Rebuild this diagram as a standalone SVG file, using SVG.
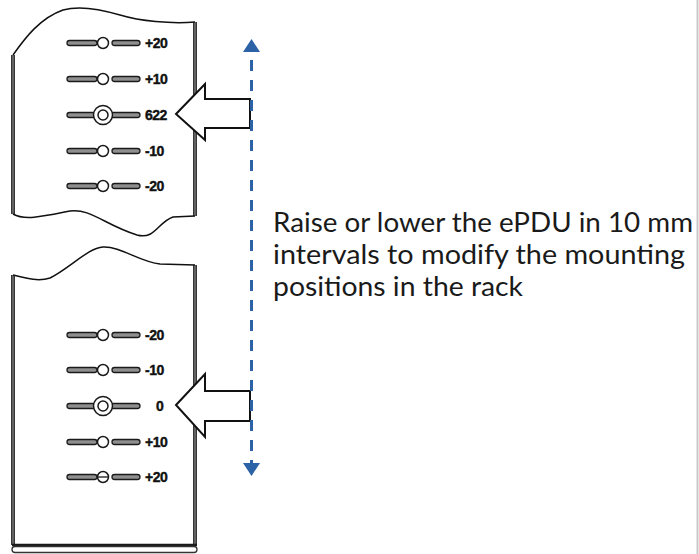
<svg xmlns="http://www.w3.org/2000/svg" xmlns:xlink="http://www.w3.org/1999/xlink" width="699" height="554" viewBox="0 0 699 554">
<style>
.edge{fill:none;stroke:#222;stroke-width:3.8}
.edge2{fill:none;stroke:#b0b0b0;stroke-width:0.9}
.cut{fill:none;stroke:#111;stroke-width:1.5}
.bar{fill:#8f8f8f;stroke:#1a1a1a;stroke-width:1.3}
.hole{fill:#fff;stroke:#1a1a1a;stroke-width:1.5}
.lbl{font-family:"Liberation Sans",Arial,sans-serif;font-weight:bold;font-size:14px;fill:#111;stroke:#111;stroke-width:0.4;letter-spacing:-0.5px}
.arrow{fill:#fff;stroke:#111;stroke-width:2;stroke-linejoin:miter}
.cap{font-family:Lato,"Liberation Sans",sans-serif;font-size:26px;fill:#1a1a1a}
.dash{stroke:#2c62a6;stroke-width:3;stroke-dasharray:11 9;stroke-dashoffset:12;fill:none}
</style>
<defs>
<g id="slot">
<rect class="bar" x="-36" y="-2.5" width="30" height="5" rx="2.5"/>
<rect class="bar" x="9" y="-2.5" width="28" height="5" rx="2.5"/>
<circle class="hole" cx="0" cy="0" r="5.5"/>
</g>
<g id="slotSel">
<rect class="bar" x="-36" y="-2.5" width="28" height="5" rx="2.5"/>
<rect class="bar" x="8" y="-2.5" width="29" height="5" rx="2.5"/>
<circle class="hole" cx="0" cy="0" r="9.5" stroke-width="1.7"/>
<circle class="hole" cx="0" cy="0" r="5"/>
</g>
<marker id="head" viewBox="0 0 13 17" refX="0" refY="8.5" markerWidth="13" markerHeight="17" markerUnits="userSpaceOnUse" orient="auto-start-reverse">
<path d="M0,0 L13,8.5 L0,17 z" fill="#2c62a6"/>
</marker>
</defs>
<rect x="0" y="0" width="699" height="554" fill="#fff"/>
<line x1="697.5" y1="0" x2="697.5" y2="554" stroke="#c9c9c9" stroke-width="2"/>

<g id="panel-top">
<path class="edge" d="M13,55 V214 M195,22 V216"/>
<path class="edge2" d="M13,55 V214 M195,22 V216"/>
<path class="cut" d="M13,55 C25,38 40,18 63,10 C80,5 100,9 120,15 C140,21 170,24 195,22"/>
<path class="cut" d="M13,214 C25,221 45,216 70,211 C90,208 105,225 137,235 C155,240 158,222 173,217 L195,216"/>
<use xlink:href="#slot" x="103" y="43"/>
<use xlink:href="#slot" x="103" y="79"/>
<use xlink:href="#slotSel" x="103" y="115"/>
<use xlink:href="#slot" x="103" y="151"/>
<use xlink:href="#slot" x="103" y="186"/>
<text class="lbl" x="145" y="48">+20</text>
<text class="lbl" x="145" y="84">+10</text>
<text class="lbl" x="145" y="120">622</text>
<text class="lbl" x="145" y="156">-10</text>
<text class="lbl" x="145" y="191">-20</text>
</g>

<g id="panel-bottom">
<path class="edge" d="M13,275 V545 M195,265 V545"/>
<path class="edge2" d="M13,275 V544 M195,265 V544"/>
<path class="cut" d="M13,275 C25,278 38,282 50,278 C70,268 88,248 103,247 C120,246 140,262 160,264 L195,265"/>
<line x1="12" y1="545" x2="197" y2="545" stroke="#1a1a1a" stroke-width="2.4"/>
<rect x="12" y="546.5" width="185" height="6" rx="3" fill="#fff" stroke="#333" stroke-width="1.3"/>
<use xlink:href="#slot" x="103" y="335"/>
<use xlink:href="#slot" x="103" y="370"/>
<use xlink:href="#slotSel" x="103" y="406"/>
<use xlink:href="#slot" x="103" y="442"/>
<use xlink:href="#slot" x="103" y="477"/>
<line x1="97.5" y1="477" x2="108.5" y2="477" stroke="#1a1a1a" stroke-width="1.3"/>
<text class="lbl" x="145" y="340">-20</text>
<text class="lbl" x="145" y="375">-10</text>
<text class="lbl" x="156" y="411">0</text>
<text class="lbl" x="145" y="447">+10</text>
<text class="lbl" x="145" y="482">+20</text>
</g>

<g id="arrow-top">
<polygon class="arrow" points="176,114 205,84 205,99 250,99 250,128 205,128 205,140"/>
</g>
<g id="arrow-bottom">
<polygon class="arrow" points="176,405 205,374 205,391 250,391 250,421 205,421 205,437"/>
</g>

<g id="caption">
<text class="cap" x="273" y="232" textLength="420" lengthAdjust="spacingAndGlyphs">Raise or lower the ePDU in 10 mm</text>
<text class="cap" x="273" y="264" textLength="412" lengthAdjust="spacingAndGlyphs">intervals to modify the mounting</text>
<text class="cap" x="273" y="296" textLength="250" lengthAdjust="spacingAndGlyphs">positions in the rack</text>
</g>

<g id="connectors">
<line class="dash" x1="251.5" y1="52" x2="251.5" y2="463" marker-start="url(#head)" marker-end="url(#head)"/>
</g>
</svg>
